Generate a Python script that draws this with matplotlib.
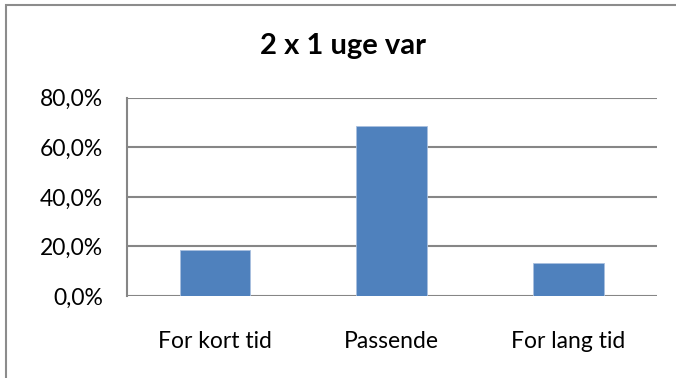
import matplotlib
matplotlib.use("Agg")
import matplotlib.pyplot as plt
from matplotlib.ticker import FuncFormatter
from matplotlib.patches import Rectangle

categories = ["For kort tid", "Passende", "For lang tid"]
values = [18.4, 68.4, 13.2]
y_ticks = [0, 20, 40, 60, 80]
title = "2 x 1 uge var"

plt.rcParams["font.family"] = ["Lato", "DejaVu Sans"]

W, H = 676, 378
fig = plt.figure(figsize=(W / 100, H / 100), dpi=100)

# outer chart frame (left and top edges visible)
fig.patches.append(Rectangle((6 / W, -0.1), 1.2, (H - 5) / H + 0.1,
                             transform=fig.transFigure, fill=False,
                             edgecolor="#8c8c8c", linewidth=1.5))

left, right = 126.7 / W, 657 / W
bottom, top = 1 - 296 / H, 1 - 97.7 / H
ax = fig.add_axes([left, bottom, right - left, top - bottom])

x = range(len(categories))
ax.bar(x, values, width=0.4, color="#4F81BD", edgecolor="#a9c0df",
       linewidth=0.6, zorder=3)

ax.set_xlim(-0.5, len(categories) - 0.5)
ax.set_ylim(0, 80)
ax.set_yticks(y_ticks)
ax.yaxis.set_major_formatter(FuncFormatter(lambda v, p: f"{v:.1f}%".replace(".", ",")))
ax.set_xticks(list(x))
ax.set_xticklabels(categories)

ax.grid(axis="y", color="#868686", linewidth=1.5, zorder=0)
for s in ["top", "right", "bottom"]:
    ax.spines[s].set_visible(False)
ax.spines["left"].set_color("#868686")
ax.spines["left"].set_linewidth(1.5)
ax.tick_params(axis="y", length=0, pad=17, labelsize=16.5, colors="black")
ax.tick_params(axis="x", length=0, pad=25, labelsize=16.5, colors="black")

fig.text((263 + 424) / 2 / W, 1 - 46 / H, title, ha="center", va="center",
         fontsize=21, fontweight="bold")

fig.savefig("out.png", dpi=100)
